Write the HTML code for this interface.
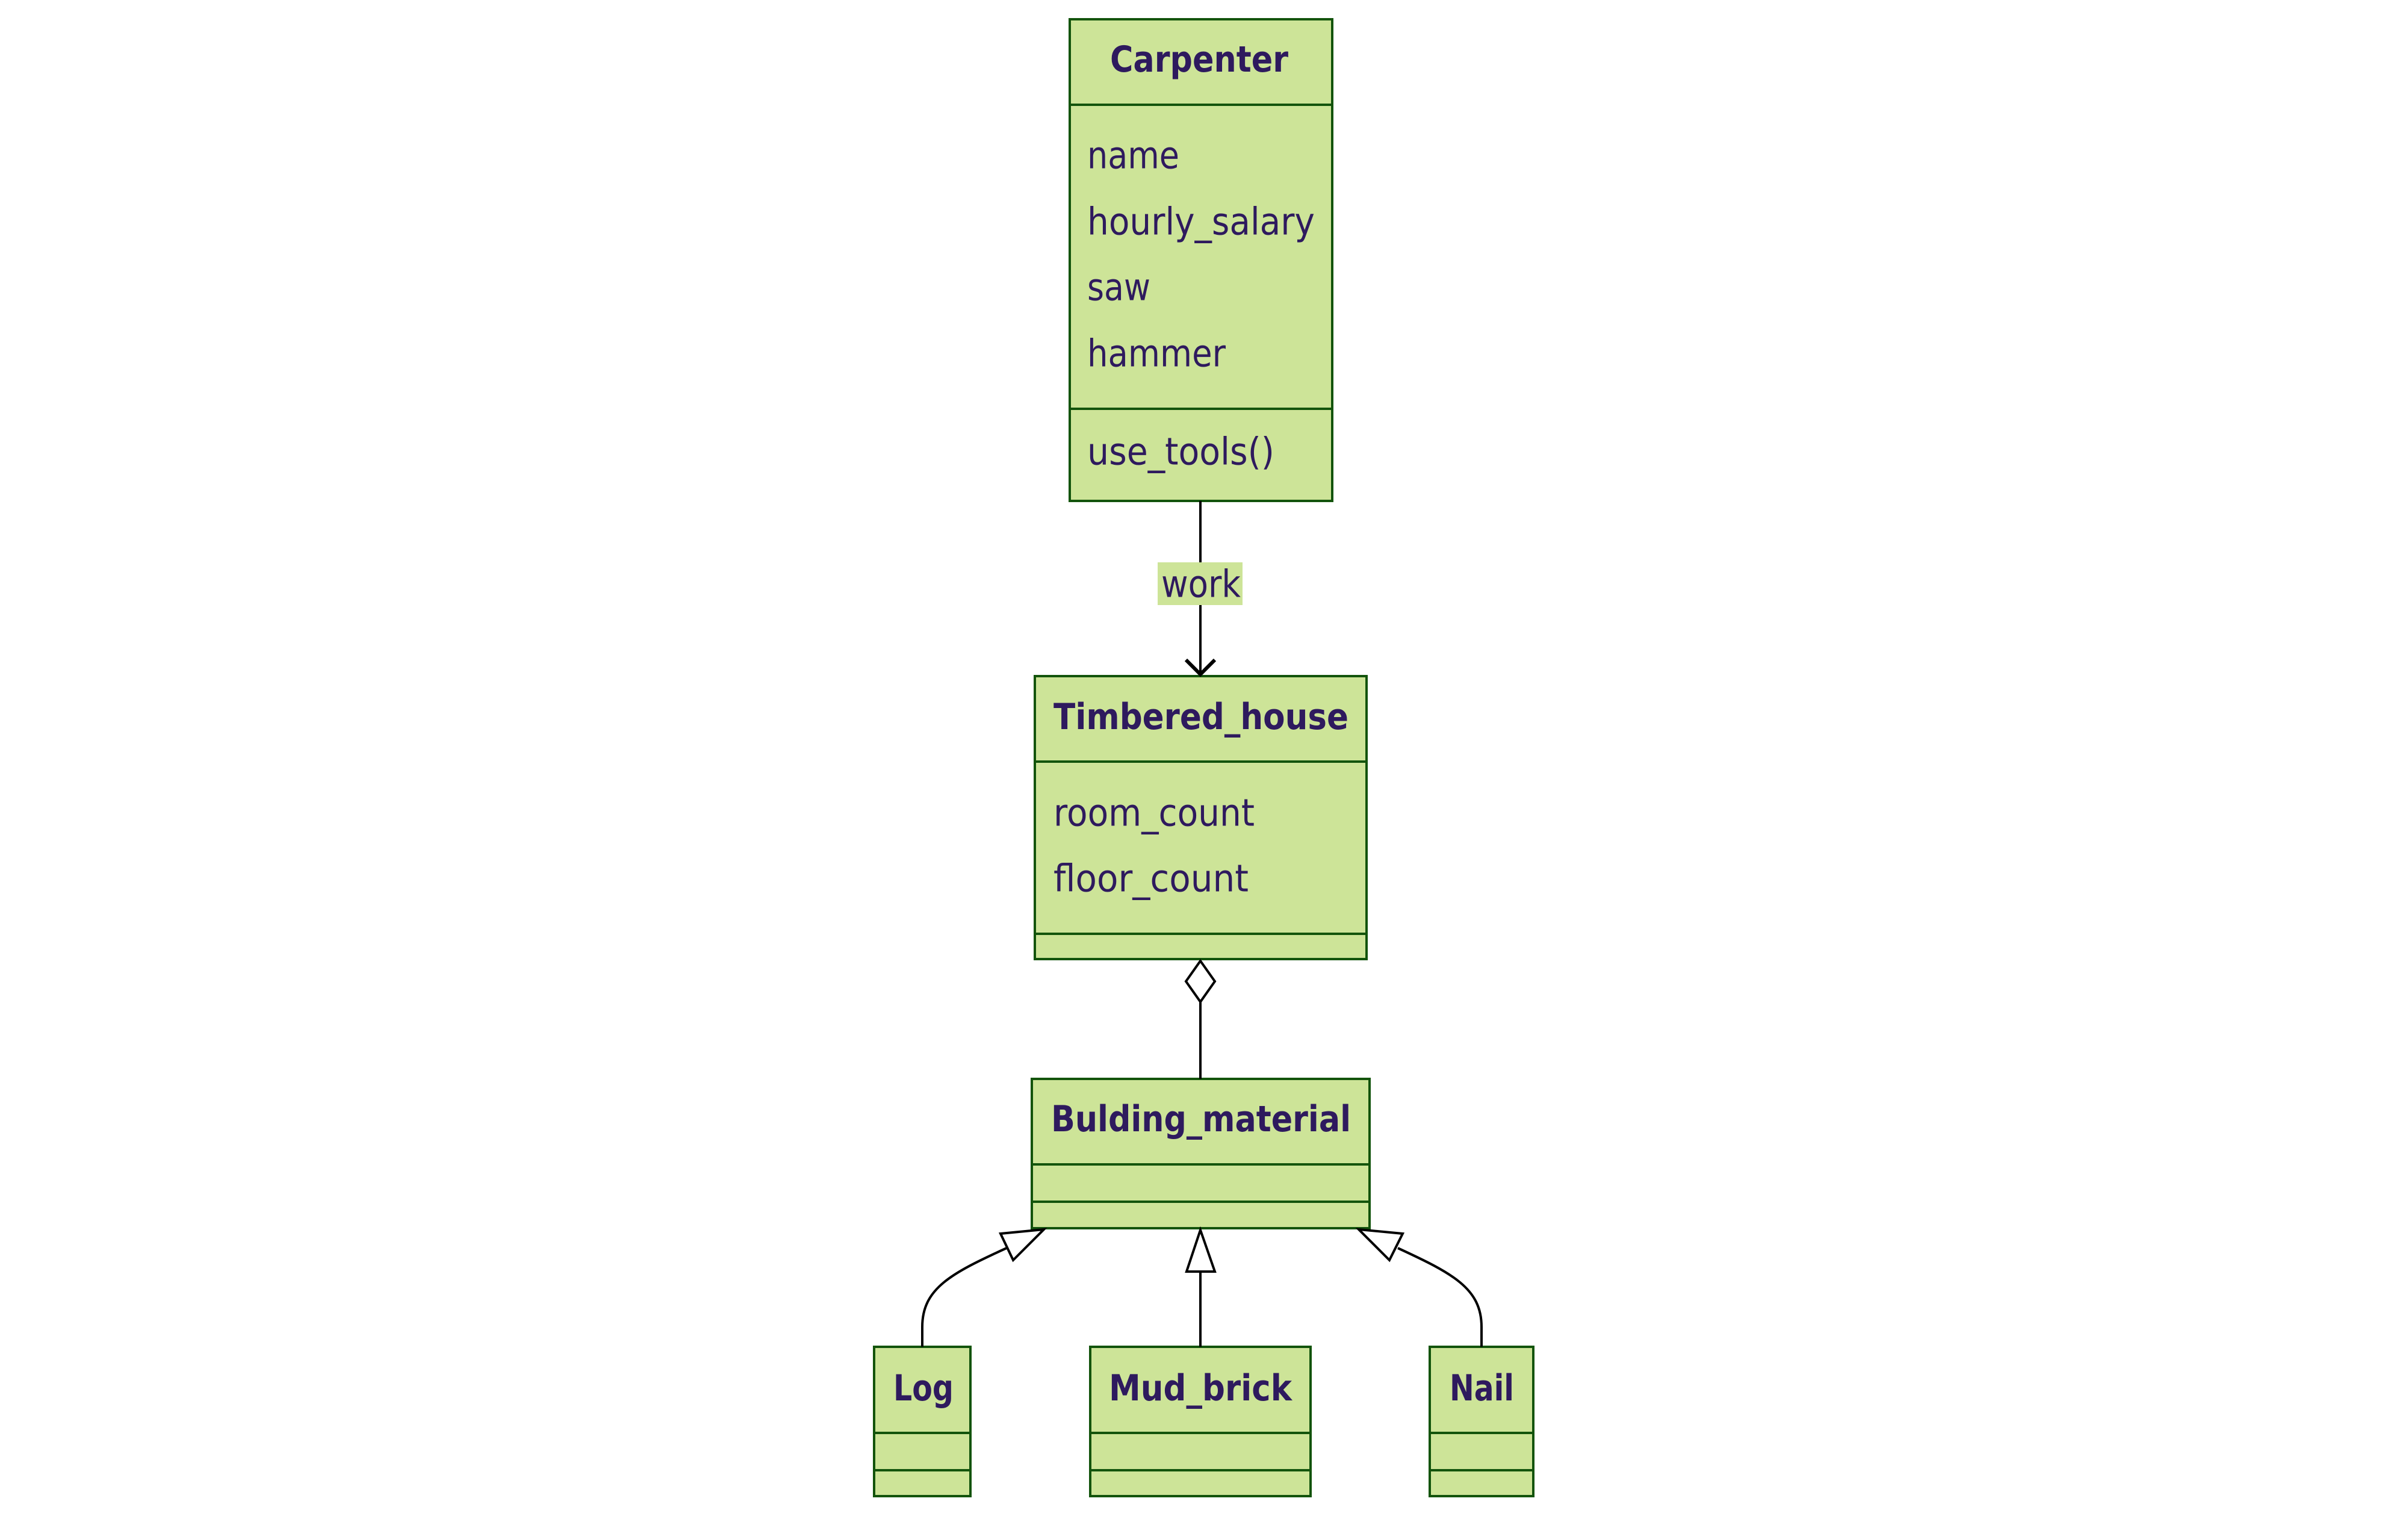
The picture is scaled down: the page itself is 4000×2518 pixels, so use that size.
<!DOCTYPE html>
<html><head><meta charset="utf-8"><style>html,body{margin:0;padding:0;background:#fff}svg{display:block}</style></head>
<body>
<svg width="4000" height="2518" viewBox="0 0 4000 2518" xmlns="http://www.w3.org/2000/svg">
<rect width="4000" height="2518" fill="#fff"/>
<g fill="#cde498" stroke="#13540c" stroke-width="4">
<rect x="1777" y="32" width="436" height="800"/>
<rect x="1719" y="1123" width="551" height="470"/>
<rect x="1714" y="1792" width="561" height="248"/>
<rect x="1452" y="2237" width="160" height="248"/>
<rect x="1811" y="2237" width="366" height="248"/>
<rect x="2375" y="2237" width="172" height="248"/>
</g>
<g stroke="#13540c" stroke-width="4">
<line x1="1777" y1="174" x2="2213" y2="174"/><line x1="1777" y1="679" x2="2213" y2="679"/>
<line x1="1719" y1="1265" x2="2270" y2="1265"/><line x1="1719" y1="1551" x2="2270" y2="1551"/>
<line x1="1714" y1="1934" x2="2275" y2="1934"/><line x1="1714" y1="1996" x2="2275" y2="1996"/>
<line x1="1452" y1="2380" x2="1612" y2="2380"/><line x1="1452" y1="2442" x2="1612" y2="2442"/>
<line x1="1811" y1="2380" x2="2177" y2="2380"/><line x1="1811" y1="2442" x2="2177" y2="2442"/>
<line x1="2375" y1="2380" x2="2547" y2="2380"/><line x1="2375" y1="2442" x2="2547" y2="2442"/>
</g>
<g stroke="#000" stroke-width="4" fill="none">
<line x1="1994" y1="832" x2="1994" y2="1118"/>
<polyline points="1970,1096 1994,1120 2018,1096" stroke-width="6"/>
<line x1="1994" y1="1664" x2="1994" y2="1792"/>
<polygon points="1994,1596 2018,1630 1994,1664 1970,1630" fill="#fff"/>
<line x1="1994" y1="2112" x2="1994" y2="2237"/>
<polygon points="1994,2043 2018,2112 1971,2112" fill="#fff"/>
<path d="M1532,2237 L1532,2204 C1532,2140 1580,2115 1672,2073"/>
<polygon points="1734,2042 1662,2049 1683,2093" fill="#fff"/>
<path d="M2461,2237 L2461,2204 C2461,2140 2413,2115 2322,2073"/>
<polygon points="2257,2042 2330,2049 2308,2093" fill="#fff"/>
</g>
<rect x="1923" y="934" width="141" height="71" fill="#cde498"/>
<g font-family="DejaVu Sans, Liberation Sans, sans-serif" fill="#2e1a5e" font-size="62" dominant-baseline="central">
<g font-weight="bold" font-size="60">
<text x="1844" y="99" textLength="296" lengthAdjust="spacingAndGlyphs">Carpenter</text>
<text x="1750" y="1191" textLength="490" lengthAdjust="spacingAndGlyphs">Timbered_house</text>
<text x="1746" y="1859" textLength="498" lengthAdjust="spacingAndGlyphs">Bulding_material</text>
<text x="1484" y="2306" textLength="100" lengthAdjust="spacingAndGlyphs">Log</text>
<text x="1842" y="2306" textLength="304" lengthAdjust="spacingAndGlyphs">Mud_brick</text>
<text x="2408" y="2306" textLength="107" lengthAdjust="spacingAndGlyphs">Nail</text>
</g>
<text x="1806" y="258" textLength="153" lengthAdjust="spacingAndGlyphs">name</text>
<text x="1806" y="368" textLength="378" lengthAdjust="spacingAndGlyphs">hourly_salary</text>
<text x="1806" y="477" textLength="105" lengthAdjust="spacingAndGlyphs">saw</text>
<text x="1806" y="587" textLength="230" lengthAdjust="spacingAndGlyphs">hammer</text>
<text x="1806" y="750" textLength="311" lengthAdjust="spacingAndGlyphs">use_tools()</text>
<text x="1750" y="1350" textLength="334" lengthAdjust="spacingAndGlyphs">room_count</text>
<text x="1750" y="1459" textLength="324" lengthAdjust="spacingAndGlyphs">floor_count</text>
<text x="1929" y="970" textLength="132" lengthAdjust="spacingAndGlyphs">work</text>
</g>
</svg>
</body></html>
